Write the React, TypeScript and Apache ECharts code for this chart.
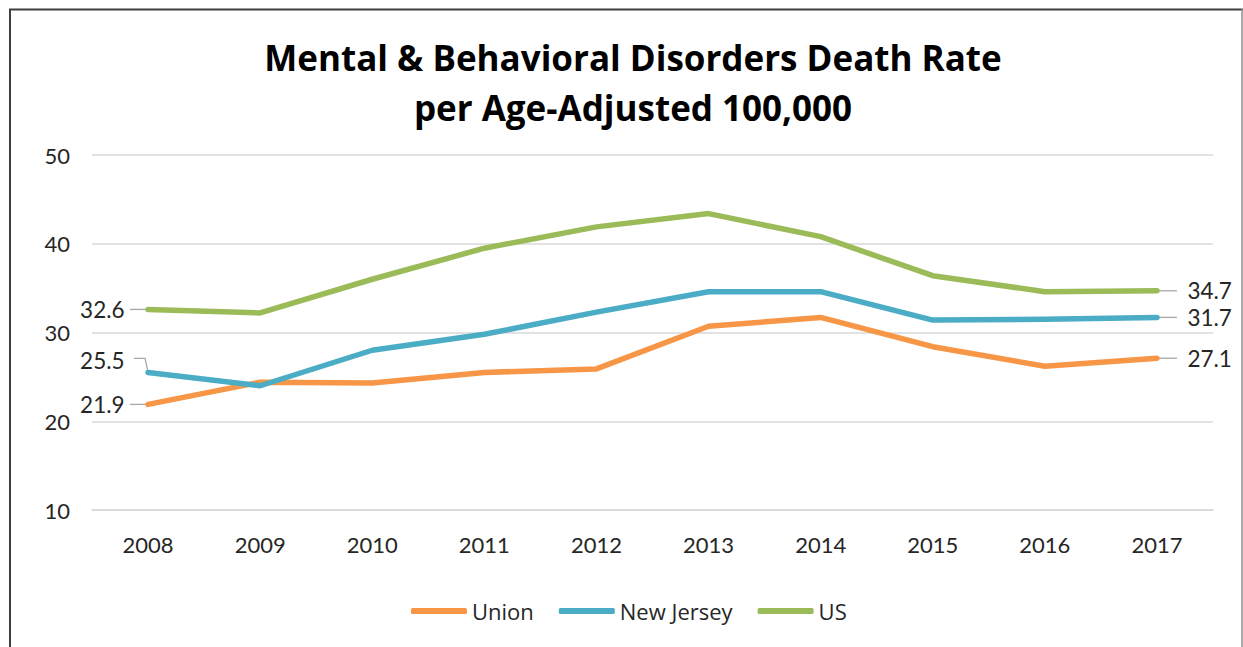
import React, { useEffect, useRef } from "react";
import * as echarts from "echarts";

// Death rate per age-adjusted 100,000, 2008–2017
const years = ["2008", "2009", "2010", "2011", "2012", "2013", "2014", "2015", "2016", "2017"];
const unionRates = [21.9, 24.4, 24.3, 25.5, 25.9, 30.7, 31.7, 28.4, 26.2, 27.1];
const newJerseyRates = [25.5, 24.0, 28.0, 29.8, 32.3, 34.6, 34.6, 31.4, 31.5, 31.7];
const usRates = [32.6, 32.2, 36.0, 39.5, 41.9, 43.4, 40.8, 36.4, 34.6, 34.7];
const yTicks = [10, 20, 30, 40, 50];

const FONT = "Lato, 'Noto Sans', sans-serif";
const WIDE_FONT = "'Open Sans', 'Noto Sans', sans-serif";
const TEXT = "#262626";
const COLORS = { union: "#F79646", nj: "#4BACC6", us: "#9BBB59" };

function buildData(values: number[], firstOffsetY: number) {
  const last = values.length - 1;
  return values.map((v, i) => {
    if (i === 0) {
      return {
        value: v,
        label: { show: true, position: "left", distance: 23, offset: [0, firstOffsetY] },
      };
    }
    if (i === last) {
      return { value: v, label: { show: true, position: "right", distance: 30 } };
    }
    return { value: v };
  });
}

export default function App() {
  const ref = useRef<HTMLDivElement>(null);

  useEffect(() => {
    if (!ref.current) return;
    const chart = echarts.init(ref.current, null, { renderer: "svg" });

    const labelStyle = { color: TEXT, fontFamily: FONT, fontSize: 22.5 };
    const makeSeries = (name: string, values: number[], color: string, offY: number) => ({
      name,
      type: "line",
      data: buildData(values, offY),
      symbol: "circle",
      symbolSize: 1,
      showSymbol: true,
      lineStyle: { color, width: 5.5, cap: "round", join: "round" },
      itemStyle: { color },
      label: { show: false, ...labelStyle },
      emphasis: { disabled: true },
      z: 3,
    });

    chart.setOption({
      animation: false,
      backgroundColor: "#ffffff",
      title: {
        text: "Mental & Behavioral Disorders Death Rate\nper Age-Adjusted 100,000",
        left: 628,
        top: 27,
        textAlign: "center",
        textStyle: {
          fontFamily: WIDE_FONT,
          fontWeight: "bold",
          fontSize: 35,
          lineHeight: 50,
          color: "#000000",
        },
      },
      legend: {
        bottom: 20,
        left: 406,
        itemWidth: 56,
        itemHeight: 6,
        itemGap: 25,
        icon: "roundRect",
        textStyle: { fontFamily: WIDE_FONT, fontSize: 22, color: TEXT },
        data: ["Union", "New Jersey", "US"],
      },
      grid: { left: 92, right: 30, top: 155, bottom: 137, containLabel: false },
      xAxis: {
        type: "category",
        data: years,
        boundaryGap: true,
        axisLine: { show: true, lineStyle: { color: "#d9d9d9", width: 1.5 } },
        axisTick: { show: false },
        axisLabel: { color: TEXT, fontFamily: FONT, fontSize: 22, margin: 23 },
      },
      yAxis: {
        type: "value",
        min: yTicks[0],
        max: yTicks[yTicks.length - 1],
        interval: 10,
        axisLine: { show: false },
        axisTick: { show: false },
        splitLine: { lineStyle: { color: "#d9d9d9", width: 1.5 } },
        axisLabel: { color: TEXT, fontFamily: FONT, fontSize: 22, margin: 22 },
      },
      series: [
        makeSeries("Union", unionRates, COLORS.union, 0),
        makeSeries("New Jersey", newJerseyRates, COLORS.nj, -12),
        makeSeries("US", usRates, COLORS.us, 0),
      ],
    });

    // Leader lines from the end points to their value labels
    const last = years.length - 1;
    const px = (idx: number, v: number) =>
      chart.convertToPixel({ gridIndex: 0 }, [idx, v]) as number[];
    const leader = { stroke: "#a6a6a6", lineWidth: 1.3, fill: "none" };
    const u0 = px(0, unionRates[0]);
    const n0 = px(0, newJerseyRates[0]);
    const s0 = px(0, usRates[0]);
    const uL = px(last, unionRates[last]);
    const nL = px(last, newJerseyRates[last]);
    const sL = px(last, usRates[last]);
    const guides: any[] = [
      { type: "polyline", shape: { points: [[u0[0] - 18, u0[1]], [u0[0], u0[1]]] }, style: leader },
      {
        type: "polyline",
        shape: { points: [[n0[0] - 14, n0[1] - 14], [n0[0] - 3, n0[1] - 14], [n0[0], n0[1]]] },
        style: leader,
      },
      { type: "polyline", shape: { points: [[s0[0] - 18, s0[1]], [s0[0], s0[1]]] }, style: leader },
      { type: "polyline", shape: { points: [[uL[0], uL[1]], [uL[0] + 20, uL[1]]] }, style: leader },
      { type: "polyline", shape: { points: [[nL[0], nL[1]], [nL[0] + 20, nL[1]]] }, style: leader },
      { type: "polyline", shape: { points: [[sL[0], sL[1]], [sL[0] + 20, sL[1]]] }, style: leader },
      // chart frame
      { type: "line", shape: { x1: 9, y1: 9.5, x2: 1243, y2: 9.5 }, style: { stroke: "#3f3f3f", lineWidth: 2 } },
      { type: "line", shape: { x1: 10, y1: 9, x2: 10, y2: 647 }, style: { stroke: "#3f3f3f", lineWidth: 2 } },
      { type: "line", shape: { x1: 1242, y1: 9, x2: 1242, y2: 647 }, style: { stroke: "#8c8c8c", lineWidth: 1.5 } },
    ];
    chart.setOption({ graphic: { elements: guides.map((g) => ({ ...g, z: 1, silent: true })) } });

    return () => chart.dispose();
  }, []);

  return (
    <div style={{ position: "absolute", left: 0, top: 0, width: 1243, height: 647, background: "#fff" }}>
      <div ref={ref} style={{ width: 1243, height: 647 }} />
    </div>
  );
}
